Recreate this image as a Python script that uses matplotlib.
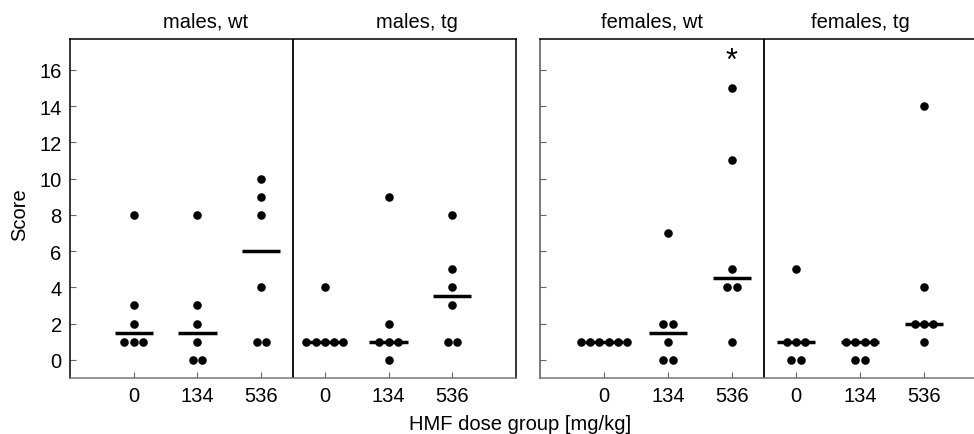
import numpy as np
import matplotlib
matplotlib.use("Agg")
import matplotlib.pyplot as plt

plt.rcParams['font.family'] = ['Liberation Sans', 'DejaVu Sans']

doses = ['0', '134', '536']

males_wt_0 = [8, 3, 2, 1, 1, 1]
males_wt_134 = [8, 3, 2, 1, 0, 0]
males_wt_536 = [10, 9, 8, 4, 1, 1]
males_tg_0 = [4, 1, 1, 1, 1, 1]
males_tg_134 = [9, 2, 1, 1, 1, 0]
males_tg_536 = [8, 5, 4, 3, 1, 1]

females_wt_0 = [1, 1, 1, 1, 1, 1]
females_wt_134 = [7, 2, 2, 1, 0, 0]
females_wt_536 = [15, 11, 5, 4, 4, 1]
females_tg_0 = [5, 1, 1, 1, 0, 0]
females_tg_134 = [1, 1, 1, 1, 0, 0]
females_tg_536 = [14, 4, 2, 2, 2, 1]

left_groups = [males_wt_0, males_wt_134, males_wt_536,
               males_tg_0, males_tg_134, males_tg_536]
right_groups = [females_wt_0, females_wt_134, females_wt_536,
                females_tg_0, females_tg_134, females_tg_536]
left_titles = ['males, wt', 'males, tg']
right_titles = ['females, wt', 'females, tg']

fig = plt.figure(figsize=(9.74, 4.35), dpi=100)
W, H = 974, 435
ax1 = fig.add_axes([70 / W, 56 / H, 446 / W, 339 / H])
ax2 = fig.add_axes([540 / W, 56 / H, 448 / W, 339 / H])

FS = 14.5

def draw_panel(ax, groups, titles, title_x):
    for pos, vals in enumerate(groups):
        vals = np.array(vals)
        med = np.median(vals)
        ax.hlines(med, pos - 0.3, pos + 0.3, color='black', lw=2.5, zorder=2)
        xs, ys = [], []
        for v in np.unique(vals):
            n = np.sum(vals == v)
            offs = (np.arange(n) - (n - 1) / 2) * 0.145
            xs.extend(pos + offs)
            ys.extend([v] * n)
        ax.scatter(xs, ys, s=38, color='black', zorder=3, linewidths=0)
    ax.axvline(2.5, color='black', lw=1.3)
    ax.set_xlim(-1, 6)
    ax.set_ylim(-1, 17.7)
    ax.set_xticks(range(6))
    ax.set_xticklabels(doses * 2, fontsize=FS)
    ax.set_yticks(range(0, 17, 2))
    ax.tick_params(direction='in', length=4, color='#666666', width=0.8)
    ax.tick_params(axis='x', pad=6)
    ax.tick_params(axis='y', pad=6, labelsize=FS)
    for s in ['left', 'top', 'right']:
        ax.spines[s].set_color('black')
    ax.spines['bottom'].set_color('#777777')
    for sp in ax.spines.values():
        sp.set_linewidth(1.1)
    for t, x in zip(titles, title_x):
        ax.text(x, 1.053, t, transform=ax.get_xaxis_transform(),
                ha='center', va='center', fontsize=FS)

draw_panel(ax1, left_groups, left_titles, [1.13, 4.45])
draw_panel(ax2, right_groups, right_titles, [0.75, 4.0])
ax2.set_yticklabels([])
ax2.spines['left'].set_color('#555555')
ax2.spines['right'].set_visible(False)

ax2.text(2, 16.5, '*', ha='center', va='center', fontsize=22)

fig.text(20 / W, 1 - 215 / H, 'Score', rotation=90, ha='center', va='center', fontsize=FS)
fig.text(520 / W, 1 - 425 / H, 'HMF dose group [mg/kg]', ha='center', va='center', fontsize=FS)

fig.savefig('out.png', dpi=100)
